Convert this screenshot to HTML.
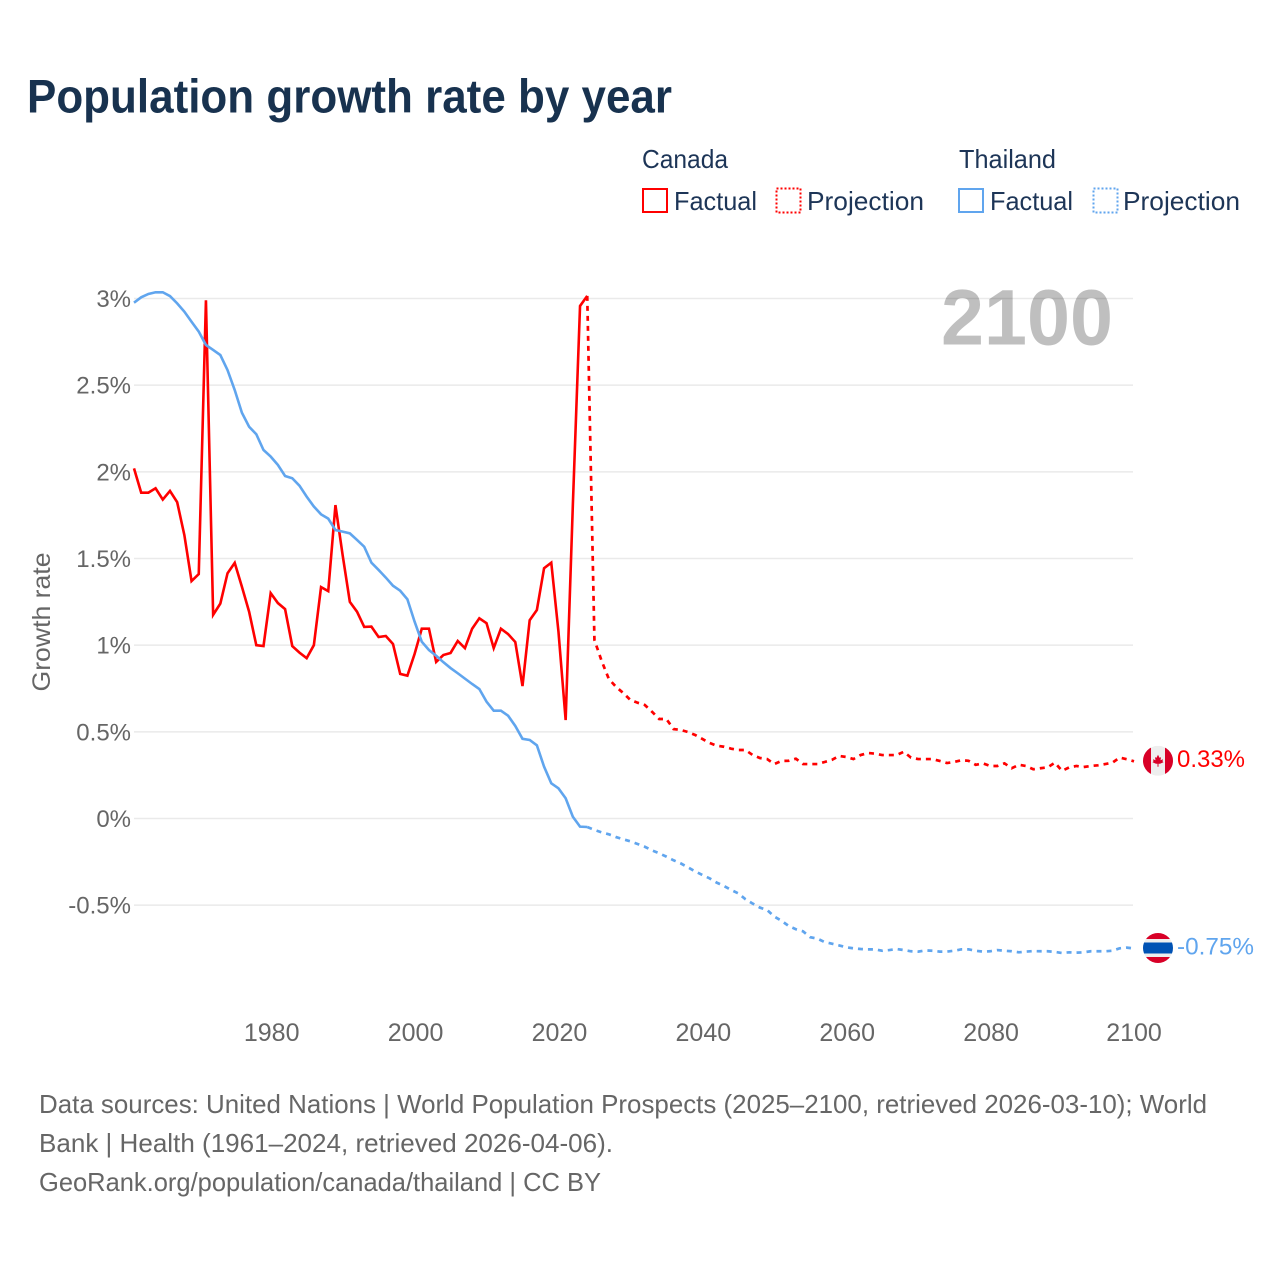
<!DOCTYPE html>
<html lang="en">
<head>
<meta charset="utf-8">
<title>Population growth rate by year</title>
<style>
  html, body { margin: 0; padding: 0; background: #fff; }
  svg { display: block; font-family: "Liberation Sans", sans-serif; }
  .tick { fill: #666; font-size: 24px; }
  .legend-text { fill: #1d3557; font-size: 26px; }
  .foot { fill: #666; font-size: 26px; }
</style>
</head>
<body>
<svg id="chart" xmlns="http://www.w3.org/2000/svg" width="1280" height="1280" viewBox="0 0 1280 1280">
  <rect x="0" y="0" width="1280" height="1280" fill="#fff"/>
  <text x="27" y="112.5" font-size="47" font-weight="700" fill="#18324f" textLength="645" lengthAdjust="spacingAndGlyphs">Population growth rate by year</text>

  <g>
    <text class="legend-text" x="642" y="168" textLength="86" lengthAdjust="spacingAndGlyphs">Canada</text>
    <text class="legend-text" x="959" y="168" textLength="97" lengthAdjust="spacingAndGlyphs">Thailand</text>
    <rect x="643" y="189" width="24" height="23" fill="none" stroke="#ff0000" stroke-width="2"/>
    <text class="legend-text" x="674" y="210" textLength="83" lengthAdjust="spacingAndGlyphs">Factual</text>
    <rect x="776.5" y="188.5" width="24" height="24" fill="none" stroke="#ff0000" stroke-width="2" stroke-dasharray="2 2"/>
    <text class="legend-text" x="807" y="210" textLength="117" lengthAdjust="spacingAndGlyphs">Projection</text>
    <rect x="959" y="189" width="24" height="23" fill="none" stroke="#60a5ee" stroke-width="2"/>
    <text class="legend-text" x="990" y="210" textLength="83" lengthAdjust="spacingAndGlyphs">Factual</text>
    <rect x="1093.5" y="188.5" width="24" height="24" fill="none" stroke="#60a5ee" stroke-width="2" stroke-dasharray="2 2"/>
    <text class="legend-text" x="1123" y="210" textLength="117" lengthAdjust="spacingAndGlyphs">Projection</text>
  </g>

  <g id="grid"></g>
  <g id="y-axis"></g>
  <g id="x-axis"></g>
  <text x="0" y="0" transform="translate(50 622) rotate(-90)" text-anchor="middle" fill="#666" font-size="25" textLength="139" lengthAdjust="spacingAndGlyphs">Growth rate</text>

  <g id="series"></g>
  <text id="year-indicator" x="1113" y="344.5" text-anchor="end" font-size="79" font-weight="700" fill="#000000" fill-opacity="0.25" textLength="172" lengthAdjust="spacingAndGlyphs">2100</text>

  <defs>
    <clipPath id="flag-clip"><circle cx="0" cy="0" r="15"/></clipPath>
  </defs>
  <g id="flag-canada" clip-path="url(#flag-clip)">
    <rect x="-15" y="-15" width="30" height="30" fill="#eeeeee"/>
    <rect x="-15" y="-15" width="8" height="30" fill="#d80027"/>
    <rect x="7" y="-15" width="8" height="30" fill="#d80027"/>
    <polygon fill="#d80027" points="0,-6 1.5,-3 3,-3.5 2.5,-0.5 5,-1.5 4.5,0.5 5.5,1.5 2,3 0.5,3 0.5,6 -0.5,6 -0.5,3 -2,3 -5.5,1.5 -4.5,0.5 -5,-1.5 -2.5,-0.5 -3,-3.5 -1.5,-3"/>
  </g>
  <g id="flag-thailand" clip-path="url(#flag-clip)">
    <rect x="-15" y="-15" width="30" height="30" fill="#eeeeee"/>
    <rect x="-15" y="-15" width="30" height="6" fill="#d80027"/>
    <rect x="-15" y="-5.5" width="30" height="11" fill="#0052b4"/>
    <rect x="-15" y="9" width="30" height="6" fill="#d80027"/>
  </g>
  <text id="end-label-canada" x="1177" fill="#ff0000" font-size="24" textLength="68" lengthAdjust="spacingAndGlyphs"></text>
  <text id="end-label-thailand" x="1177" fill="#60a5ee" font-size="24" textLength="77" lengthAdjust="spacingAndGlyphs"></text>

  <g>
    <text class="foot" x="39" y="1113" textLength="1168" lengthAdjust="spacingAndGlyphs">Data sources: United Nations | World Population Prospects (2025–2100, retrieved 2026-03-10); World</text>
    <text class="foot" x="39" y="1152" textLength="574" lengthAdjust="spacingAndGlyphs">Bank | Health (1961–2024, retrieved 2026-04-06).</text>
    <text class="foot" x="39" y="1191" textLength="562" lengthAdjust="spacingAndGlyphs">GeoRank.org/population/canada/thailand | CC BY</text>
  </g>
</svg>

<script>
const yTickValues = [3, 2.5, 2, 1.5, 1, 0.5, 0, -0.5];
const yTickLabels = ["3%", "2.5%", "2%", "1.5%", "1%", "0.5%", "0%", "-0.5%"];
const xTickYears = [1980, 2000, 2020, 2040, 2060, 2080, 2100];
const factualStartYear = 1961;
const projectionStartYear = 2025;
const canadaFactual = [2.02,1.88,1.88,1.905,1.84,1.89,1.825,1.635,1.37,1.41,
  2.99,1.175,1.24,1.415,1.475,1.337,1.193,1.0,0.995,1.30,
  1.243,1.208,0.995,0.957,0.925,1.0,1.335,1.312,1.808,1.52,
  1.25,1.193,1.105,1.107,1.047,1.053,1.007,0.834,0.824,0.949,
  1.095,1.095,0.903,0.943,0.955,1.024,0.983,1.095,1.155,1.127,
  0.983,1.095,1.064,1.018,0.764,1.144,1.203,1.444,1.476,1.078,
  0.568,1.81,2.957,3.015];
const canadaProjection = [1.03,0.909,0.805,0.76,0.724,0.684,0.668,0.655,0.616,0.574,
  0.574,0.516,0.511,0.499,0.482,0.459,0.436,0.42,0.414,0.403,
  0.395,0.395,0.366,0.349,0.343,0.314,0.332,0.333,0.345,0.314,
  0.314,0.314,0.326,0.338,0.361,0.355,0.343,0.366,0.378,0.374,
  0.366,0.366,0.366,0.385,0.351,0.343,0.343,0.343,0.332,0.32,
  0.326,0.336,0.333,0.31,0.318,0.303,0.303,0.318,0.29,0.31,
  0.303,0.284,0.29,0.295,0.322,0.275,0.295,0.303,0.297,0.303,
  0.307,0.314,0.322,0.351,0.342,0.33];
const thailandFactual = [2.976,3.007,3.026,3.036,3.036,3.014,2.972,2.924,2.866,2.809,
  2.732,2.703,2.674,2.587,2.472,2.341,2.26,2.217,2.126,2.088,
  2.04,1.976,1.963,1.92,1.857,1.80,1.755,1.73,1.664,1.655,
  1.645,1.607,1.568,1.476,1.434,1.39,1.343,1.314,1.265,1.136,
  1.02,0.972,0.939,0.902,0.868,0.838,0.807,0.776,0.747,0.674,
  0.622,0.622,0.593,0.534,0.46,0.453,0.422,0.299,0.203,0.174,
  0.117,0.01,-0.047,-0.049];
const thailandProjection = [-0.066,-0.08,-0.091,-0.107,-0.12,-0.132,-0.147,-0.163,-0.184,-0.201,
  -0.22,-0.241,-0.259,-0.282,-0.305,-0.326,-0.345,-0.37,-0.389,-0.412,
  -0.432,-0.466,-0.491,-0.514,-0.528,-0.566,-0.59,-0.62,-0.639,-0.651,
  -0.685,-0.693,-0.713,-0.722,-0.732,-0.743,-0.749,-0.753,-0.755,-0.755,
  -0.763,-0.759,-0.753,-0.759,-0.766,-0.768,-0.761,-0.763,-0.768,-0.768,
  -0.763,-0.755,-0.755,-0.763,-0.768,-0.766,-0.759,-0.763,-0.766,-0.772,
  -0.768,-0.765,-0.766,-0.766,-0.77,-0.776,-0.772,-0.774,-0.772,-0.766,
  -0.766,-0.766,-0.763,-0.749,-0.745,-0.75];

const NS = "http://www.w3.org/2000/svg";
const plotLeft = 134, plotRight = 1134, zeroY = 818.5, pxPerPercent = 173.33;
const xDomainStart = 1961, xDomainEnd = 2100;
function xScale(year) {
  return plotLeft + (year - xDomainStart) * (plotRight - plotLeft) / (xDomainEnd - xDomainStart);
}
function yScale(v) {
  return zeroY - v * pxPerPercent;
}
function node(tag, parent) {
  const el = document.createElementNS(NS, tag);
  parent.appendChild(el);
  return el;
}
function pathFrom(values, startYear, leadYear, leadValue) {
  let pts = [];
  if (leadYear !== null) pts.push(xScale(leadYear).toFixed(2) + "," + yScale(leadValue).toFixed(2));
  values.forEach(function (v, i) {
    pts.push(xScale(startYear + i).toFixed(2) + "," + yScale(v).toFixed(2));
  });
  return "M" + pts.join("L");
}

const gridGroup = document.getElementById("grid");
const yAxisGroup = document.getElementById("y-axis");
yTickValues.forEach(function (v, i) {
  const line = node("line", gridGroup);
  
  
  line.setAttribute("x1", plotLeft);
  line.setAttribute("x2", plotRight - 1);
  line.setAttribute("y1", yScale(v));
  line.setAttribute("y2", yScale(v));
  line.setAttribute("stroke", "#eaeaea");
  line.setAttribute("stroke-width", "1.5");
  const label = node("text", yAxisGroup);
  
  
  label.setAttribute("class", "tick");
  label.setAttribute("x", 131);
  label.setAttribute("y", yScale(v) + 8.5);
  label.setAttribute("text-anchor", "end");
  label.textContent = yTickLabels[i];
});

const xAxisGroup = document.getElementById("x-axis");
xTickYears.forEach(function (yr) {
  const label = node("text", xAxisGroup);
  
  
  label.setAttribute("class", "tick");
  label.setAttribute("x", xScale(yr) + (yr === 2100 ? 0 : 1));
  label.setAttribute("y", 1041);
  label.setAttribute("text-anchor", "middle");
  label.style.fontSize = "25px";
  label.textContent = String(yr);
});

const seriesGroup = document.getElementById("series");
const lastFactualYear = projectionStartYear - 1;

const canadaProjectionLine = node("path", seriesGroup);


canadaProjectionLine.setAttribute("d", pathFrom(canadaProjection, projectionStartYear, lastFactualYear, canadaFactual[canadaFactual.length - 1]));
canadaProjectionLine.setAttribute("fill", "none");
canadaProjectionLine.setAttribute("stroke", "#ff0000");
canadaProjectionLine.setAttribute("stroke-width", "2.7");
canadaProjectionLine.setAttribute("stroke-dasharray", "5 5");

const canadaFactualLine = node("path", seriesGroup);


canadaFactualLine.setAttribute("d", pathFrom(canadaFactual, factualStartYear, null, 0));
canadaFactualLine.setAttribute("fill", "none");
canadaFactualLine.setAttribute("stroke", "#ff0000");
canadaFactualLine.setAttribute("stroke-width", "2.6");
canadaFactualLine.setAttribute("stroke-linejoin", "miter");

const thailandProjectionLine = node("path", seriesGroup);


thailandProjectionLine.setAttribute("d", pathFrom(thailandProjection, projectionStartYear, lastFactualYear, thailandFactual[thailandFactual.length - 1]));
thailandProjectionLine.setAttribute("fill", "none");
thailandProjectionLine.setAttribute("stroke", "#60a5ee");
thailandProjectionLine.setAttribute("stroke-width", "2.7");
thailandProjectionLine.setAttribute("stroke-dasharray", "5 5");

const thailandFactualLine = node("path", seriesGroup);


thailandFactualLine.setAttribute("d", pathFrom(thailandFactual, factualStartYear, null, 0));
thailandFactualLine.setAttribute("fill", "none");
thailandFactualLine.setAttribute("stroke", "#60a5ee");
thailandFactualLine.setAttribute("stroke-width", "2.6");

const canadaEnd = canadaProjection[canadaProjection.length - 1];
const thailandEnd = thailandProjection[thailandProjection.length - 1];
document.getElementById("flag-canada").setAttribute("transform", "translate(1158 " + (yScale(canadaEnd) - 0.5) + ")");
document.getElementById("flag-thailand").setAttribute("transform", "translate(1158 " + (yScale(thailandEnd) - 0.5) + ")");
const canadaLabel = document.getElementById("end-label-canada");
canadaLabel.setAttribute("y", yScale(canadaEnd) + 5.5);
canadaLabel.textContent = canadaEnd.toFixed(2) + "%";
const thailandLabel = document.getElementById("end-label-thailand");
thailandLabel.setAttribute("y", yScale(thailandEnd) + 6);
thailandLabel.textContent = thailandEnd.toFixed(2) + "%";
</script>
</body>
</html>
